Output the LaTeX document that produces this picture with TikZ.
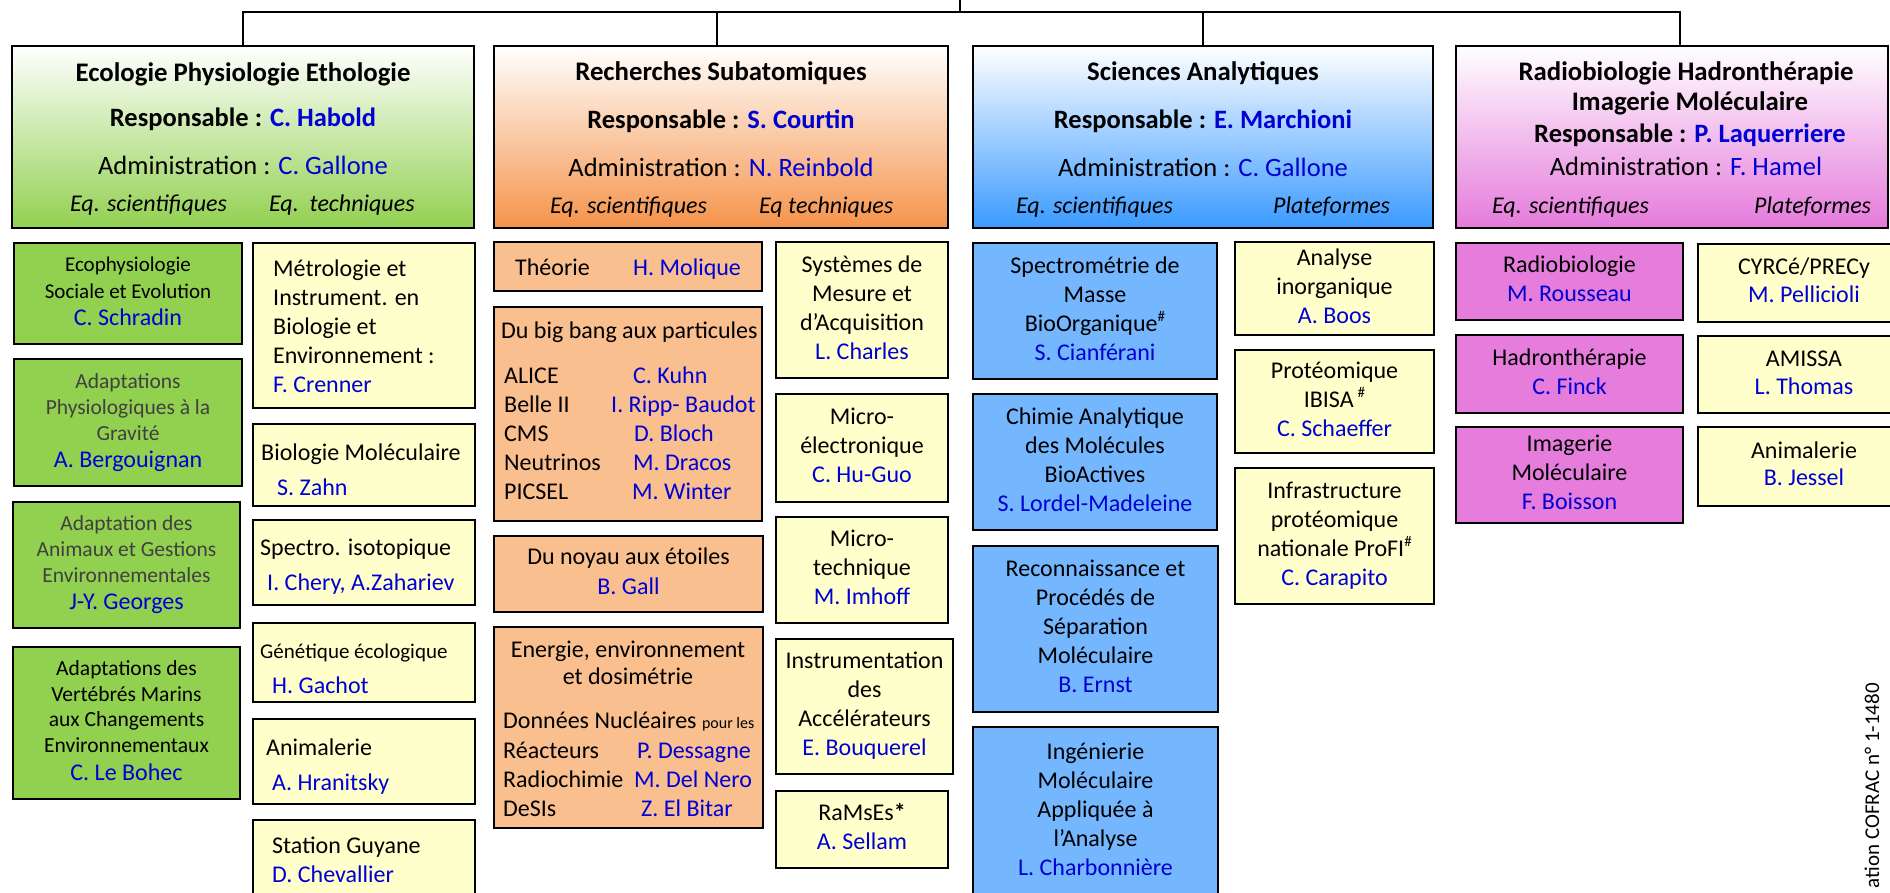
\documentclass[tikz,border=0pt]{standalone}
\usepackage{fontspec}
\setmainfont{Carlito}
\definecolor{nameblue}{HTML}{0000D2}
\definecolor{gsub}{HTML}{92D050}
\definecolor{osub}{HTML}{FABF8F}
\definecolor{ysub}{HTML}{FFFFCC}
\definecolor{bsub}{HTML}{75B7FF}
\definecolor{psub}{HTML}{E67DDC}
\definecolor{ghead}{HTML}{92D050}
\definecolor{ohead}{HTML}{F5934A}
\definecolor{bhead}{HTML}{3A9AFF}
\definecolor{phead}{HTML}{E57ADB}
\definecolor{graytxt}{HTML}{404040}
\newcommand\nm[1]{\textcolor{nameblue}{#1}}
\newcommand\fsz[2]{\fontsize{#1}{#2}\selectfont}
\newcommand\lns[2]{\begin{tabular}[t]{@{}#1@{}}#2\end{tabular}}
\newcommand\cln[1]{\begin{tabular}{@{}c@{}}#1\end{tabular}}
\newcommand\sps[1]{\raisebox{0.42em}{\fsz{15}{15}#1}}
\begin{document}
\begin{tikzpicture}[x=1pt,y=-1pt,
  box/.style={draw=black,line width=2pt,inner sep=0pt,font=\fsz{24}{29}},
  hdr/.style={box,top color=white},
  conn/.style={draw=black,line width=2.2pt},
  txt/.style={inner sep=0pt,font=\fsz{24}{29}},
  htitle/.style={inner sep=0pt,font=\fsz{26.8}{30}\bfseries},
  hresp/.style={inner sep=0pt,font=\fsz{26.5}{30}\bfseries},
  hadmin/.style={inner sep=0pt,font=\fsz{26.5}{30}},
  heq/.style={inner sep=0pt,font=\fsz{24}{28}\itshape}]
\useasboundingbox (0,0) rectangle (1890,892);
\clip (0,0) rectangle (1890,892);

% ---------- headers ----------
\node[hdr,bottom color=ghead,minimum width=462pt,minimum height=182pt] (h1) at (243,137) {};
\node[hdr,bottom color=ohead,minimum width=454pt,minimum height=182pt] (h2) at (721,137) {};
\node[hdr,bottom color=bhead,minimum width=460pt,minimum height=182pt] (h3) at (1203,137) {};
\node[hdr,bottom color=phead,minimum width=432pt,minimum height=182pt] (h4) at (1672,137) {};

% ---------- connectors ----------
\coordinate (root) at (960,-4);
\coordinate (bus) at (960,12);
\draw[conn] (root) -- (bus);
\draw[conn] (h1.north) |- (bus);
\draw[conn] ([xshift=-4pt]h2.north) |- (bus);
\draw[conn] (h3.north) |- (bus);
\draw[conn] ([xshift=8pt]h4.north) |- (bus);

% ---------- header texts ----------
\node[htitle,anchor=base] (h1a) at (243,81) {Ecologie Physiologie Ethologie};
\node[hresp,anchor=base] (h1b) at (243,126) {Responsable : \nm{C. Habold}};
\node[hadmin,anchor=base] (h1c) at (243,174) {Administration : \nm{C. Gallone}};
\node[heq,anchor=base west] (h1d) at (70,211) {Eq. scientifiques};
\node[heq,anchor=base west] (h1e) at (269,211) {Eq.\ \ techniques};

\node[htitle,anchor=base] (h2a) at (721,80) {Recherches Subatomiques};
\node[hresp,anchor=base] (h2b) at (721,128) {Responsable : \nm{S. Courtin}};
\node[hadmin,anchor=base] (h2c) at (721,176) {Administration : \nm{N. Reinbold}};
\node[heq,anchor=base west] (h2d) at (550,213) {Eq. scientifiques};
\node[heq,anchor=base west] (h2e) at (759,213) {Eq techniques};

\node[htitle,anchor=base] (h3a) at (1203,80) {Sciences Analytiques};
\node[hresp,anchor=base] (h3b) at (1203,128) {Responsable : \nm{E. Marchioni}};
\node[hadmin,anchor=base] (h3c) at (1203,176) {Administration : \nm{C. Gallone}};
\node[heq,anchor=base west] (h3d) at (1016,213) {Eq. scientifiques};
\node[heq,anchor=base west] (h3e) at (1273,213) {Plateformes};

\node[htitle,anchor=base] (h4a) at (1686,80) {Radiobiologie Hadronthérapie};
\node[htitle,anchor=base] (h4b) at (1690,110) {Imagerie Moléculaire};
\node[hresp,anchor=base] (h4c) at (1690,142) {Responsable : \nm{P. Laquerriere}};
\node[hadmin,anchor=base] (h4d) at (1686,175) {Administration : \nm{F. Hamel}};
\node[heq,anchor=base west] (h4e) at (1492,213) {Eq. scientifiques};
\node[heq,anchor=base west] (h4f) at (1754,213) {Plateformes};

% ---------- green column ----------
\node[box,fill=gsub,minimum width=228pt,minimum height=101pt,font=\fsz{21}{26.5}] (g1) at (128,293.5)
  {\cln{Ecophysiologie\\Sociale et Evolution\\[1pt]{\fsz{24}{26}\nm{C. Schradin}}}};
\node[box,fill=gsub,minimum width=228pt,minimum height=127pt,font=\fsz{21.5}{26},text=graytxt] (g2) at (128,422.5)
  {\cln{Adaptations\\Physiologiques à la\\Gravité\\[1pt]{\fsz{24}{26}\nm{A. Bergouignan}}}};
\node[box,fill=gsub,minimum width=227pt,minimum height=126pt,font=\fsz{21.5}{26},text=graytxt] (g3) at (126.5,565)
  {\cln{Adaptation des\\Animaux et Gestions\\Environnementales\\[1pt]{\fsz{24}{26}\nm{J-Y. Georges}}}};
\node[box,fill=gsub,minimum width=227pt,minimum height=152pt,font=\fsz{21.5}{25.5}] (g4) at (126.5,723)
  {\cln{Adaptations des\\Vertébrés Marins\\aux Changements\\Environnementaux\\[3pt]{\fsz{24}{26}\nm{C. Le Bohec}}}};

% ---------- yellow, ecology ----------
\node[box,fill=ysub,minimum width=222pt,minimum height=165pt] (y1) at (364,325.5) {};
\node[box,fill=ysub,minimum width=222pt,minimum height=82pt] (y2) at (364,465) {};
\node[box,fill=ysub,minimum width=222pt,minimum height=85pt] (y3) at (364,562.5) {};
\node[box,fill=ysub,minimum width=222pt,minimum height=79pt] (y4) at (364,662.5) {};
\node[box,fill=ysub,minimum width=222pt,minimum height=85pt] (y5) at (364,761.5) {};
\node[box,fill=ysub,minimum width=222pt,minimum height=90pt] (y6) at (364,865) {};
\node[txt,anchor=base west] (y1t) at (273,276) {\lns{l}{Métrologie et\\Instrument. en\\Biologie et\\Environnement :\\\nm{F. Crenner}}};
\node[txt,anchor=base west] (y2t) at (261,460) {\lns{l}{Biologie Moléculaire\\[6pt]\hspace*{16pt}\nm{S. Zahn}}};
\node[txt,anchor=base west] (y3t) at (260,555) {\lns{l}{Spectro. isotopique\\[6pt]\hspace*{7pt}\nm{I. Chery, A.Zahariev}}};
\node[txt,anchor=base west] (y4t) at (260,658) {\lns{l}{{\fsz{21}{29}Génétique écologique}\\[6pt]\hspace*{12pt}\nm{H. Gachot}}};
\node[txt,anchor=base west] (y5t) at (266,755) {\lns{l}{Animalerie\\[6pt]\hspace*{6pt}\nm{A. Hranitsky}}};
\node[txt,anchor=base west] (y6t) at (272,853) {\lns{l}{Station Guyane\\\nm{D. Chevallier}}};

% ---------- orange column ----------
\node[box,fill=osub,minimum width=268pt,minimum height=49pt] (o1) at (628,266.5) {};
\node[box,fill=osub,minimum width=268pt,minimum height=214pt] (o2) at (628,414) {};
\node[box,fill=osub,minimum width=269pt,minimum height=76pt] (o3) at (628.5,574)
  {\cln{Du noyau aux étoiles\\[1pt]\nm{B. Gall}}};
\node[box,fill=osub,minimum width=269pt,minimum height=201pt] (o4) at (628.5,727.5) {};
\node[txt,anchor=base west] (o1a) at (515,275) {Théorie};
\node[txt,anchor=base west] (o1b) at (633,275) {\nm{H. Molique}};
\node[txt,anchor=base west] (o2a) at (501,338) {Du big bang aux particules};
\node[txt,anchor=base west] (o2b) at (504,383) {\lns{l}{ALICE\\Belle II\\CMS\\Neutrinos\\PICSEL}};
\node[txt,anchor=base west,text=nameblue] (o2c) at (633,383)
  {\lns{l}{C. Kuhn\\\hspace*{-22pt}I. Ripp- Baudot\\\hspace*{1pt}D. Bloch\\M. Dracos\\\hspace*{-1pt}M. Winter}};
\node[txt,anchor=base] (o4a) at (628,657) {\lns{c}{Energie, environnement\\[-2pt]et dosimétrie}};
\node[txt,anchor=base west] (o4b) at (503,728) {\lns{l}{Données Nucléaires {\fsz{16}{29}pour les}\\[1pt]Réacteurs\\Radiochimie\\DeSIs}};
\node[txt,anchor=base west,text=nameblue] (o4c) at (634,758) {\lns{l}{\hspace*{3pt}P. Dessagne\\M. Del Nero\\\hspace*{7pt}Z. El Bitar}};

% ---------- yellow, subatomic ----------
\node[box,fill=ysub,minimum width=172pt,minimum height=136pt] (y7) at (862,310)
  {\cln{Systèmes de\\Mesure et\\d’Acquisition\\\nm{L. Charles}}};
\node[box,fill=ysub,minimum width=172pt,minimum height=108pt] (y8) at (862,448)
  {\cln{Micro-\\électronique\\\nm{C. Hu-Guo}}};
\node[box,fill=ysub,minimum width=172pt,minimum height=106pt] (y9) at (862,570)
  {\cln{Micro-\\technique\\\nm{M. Imhoff}}};
\node[box,fill=ysub,minimum width=177pt,minimum height=135pt] (y10) at (864.5,706.5)
  {\cln{Instrumentation\\des\\Accélérateurs\\\nm{E. Bouquerel}}};
\node[box,fill=ysub,minimum width=172pt,minimum height=77pt] (y11) at (862,829.5)
  {\cln{RaMsEs\textbf{*}\\\nm{A. Sellam}}};

% ---------- blue column ----------
\node[box,fill=bsub,minimum width=244pt,minimum height=136pt] (b1) at (1095,311)
  {\cln{Spectrométrie de\\Masse\\BioOrganique\sps{\#}\\\nm{S. Cianférani}}};
\node[box,fill=bsub,minimum width=244pt,minimum height=136pt] (b2) at (1095,462)
  {\cln{Chimie Analytique\\des Molécules\\BioActives\\\nm{S. Lordel-Madeleine}}};
\node[box,fill=bsub,minimum width=245pt,minimum height=166pt] (b3) at (1095.5,629)
  {\cln{Reconnaissance et\\Procédés de\\Séparation\\Moléculaire\\\nm{B. Ernst}}};
\node[box,fill=bsub,minimum width=245pt,minimum height=180pt] (b4) at (1095.5,817) {};
\node[txt,anchor=base] (b4t) at (1095.5,759)
  {\lns{c}{Ingénierie\\Moléculaire\\Appliquée à\\l’Analyse\\\nm{L. Charbonnière}}};

% ---------- yellow, analytics ----------
\node[box,fill=ysub,minimum width=199pt,minimum height=93pt] (y12) at (1334.5,288.5)
  {\cln{Analyse\\inorganique\\\nm{A. Boos}}};
\node[box,fill=ysub,minimum width=199pt,minimum height=103pt] (y13) at (1334.5,401.5)
  {\cln{Protéomique\\IBISA\,\sps{\#}\\\nm{C. Schaeffer}}};
\node[box,fill=ysub,minimum width=199pt,minimum height=136pt] (y14) at (1334.5,536)
  {\cln{Infrastructure\\protéomique\\nationale ProFI\sps{\#}\\\nm{C. Carapito}}};

% ---------- pink column ----------
\node[box,fill=psub,minimum width=227pt,minimum height=77pt] (p1) at (1569.5,281.5)
  {\cln{Radiobiologie\\\nm{M. Rousseau}}};
\node[box,fill=psub,minimum width=227pt,minimum height=78pt] (p2) at (1569.5,374)
  {\cln{Hadronthérapie\\\nm{C. Finck}}};
\node[box,fill=psub,minimum width=227pt,minimum height=96pt] (p3) at (1569.5,475)
  {\cln{Imagerie\\Moléculaire\\\nm{F. Boisson}}};

% ---------- yellow, radiobiology ----------
\node[box,fill=ysub,minimum width=212pt,minimum height=78pt] (y15) at (1804,283)
  {\cln{CYRCé/PRECy\\[-1pt]\nm{M. Pellicioli}}};
\node[box,fill=ysub,minimum width=212pt,minimum height=77pt] (y16) at (1804,374.5)
  {\cln{AMISSA\\[-1pt]\nm{L. Thomas}}};
\node[box,fill=ysub,minimum width=212pt,minimum height=79pt] (y17) at (1804,466.5)
  {\cln{Animalerie\\[-2pt]\nm{B. Jessel}}};

% ---------- side note ----------
\node[inner sep=0pt,rotate=90,anchor=base east,font=\fsz{21}{25}] (cofrac) at (1879,683) {ation COFRAC n° 1-1480};
\end{tikzpicture}
\end{document}
